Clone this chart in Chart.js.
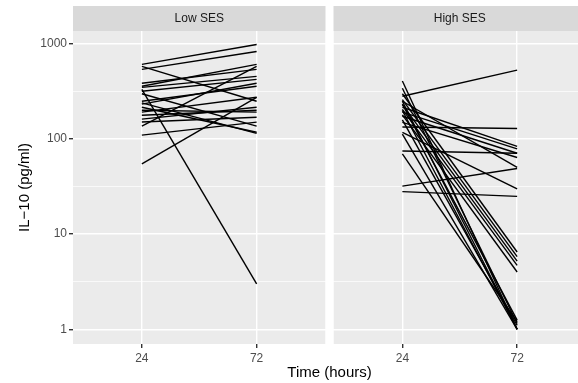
<!DOCTYPE html>
<html>
<head>
<meta charset="utf-8">
<script src="https://cdn.jsdelivr.net/npm/chart.js@4"></script>
<style>
  html, body { margin: 0; padding: 0; overflow: hidden; background: #fff; }
  #wrap { width: 578px; height: 383px; overflow: hidden; }
</style>
</head>
<body>
<div id="wrap"><canvas id="il10Chart" width="586" height="383"></canvas></div>
<script>
const panels = ["Low SES", "High SES"];
const timeLabels = ["24", "72"];
const yTicks = [1, 10, 100, 1000];

// IL-10 per subject, 24 h and 72 h
const lowSES24 = [610, 581, 541, 386, 359, 350, 334, 318, 300, 250, 240, 233, 216, 201, 192, 178, 162, 151, 137, 110, 55];
const lowSES72 = [988, 250, 834, 541, 610, 457, 3, 425, 137, 359, 115, 386, 118, 192, 275, 201, 216, 170, 581, 151, 275];
const highSES24 = [282, 134, 216, 192, 174, 75, 150, 250, 32, 118, 28, 408, 342, 250, 233, 200, 159, 113, 70, 300, 260, 230, 205, 180];
const highSES72 = [532, 129, 84, 79, 71, 71, 64, 50.5, 49, 30, 25, 1.0, 1.15, 1.0, 1.25, 1.0, 1.1, 1.0, 1.2, 6.5, 5.8, 5.2, 4.7, 4.0];

// facet layout in x units (discrete positions 1 and 2, 0.6 expansion)
const expand = 0.6;
const panelGap = 0.07;
const panelOffset = 1 + 2 * expand + panelGap;
const panelRanges = [
  [1 - expand, 2 + expand],
  [1 - expand + panelOffset, 2 + expand + panelOffset],
];
const minorTicks = [Math.sqrt(10), Math.sqrt(1000), Math.sqrt(100000)];

function makeSets(a24, a72, off) {
  return a24.map((v, i) => ({
    data: [{ x: 1 + off, y: v }, { x: 2 + off, y: a72[i] }],
    borderColor: "#000",
    borderWidth: 1.4,
    pointRadius: 0,
    fill: false,
    tension: 0,
  }));
}

const datasets = makeSets(lowSES24, lowSES72, 0).concat(makeSets(highSES24, highSES72, panelOffset));

const facetPlugin = {
  id: "facets",
  beforeDraw(chart) {
    const { ctx, chartArea: a, scales: { x } } = chart;
    ctx.save();
    ctx.fillStyle = "#ebebeb";
    panelRanges.forEach(([lo, hi]) => {
      const l = x.getPixelForValue(lo);
      const r = x.getPixelForValue(hi);
      ctx.fillRect(l, a.top, r - l, a.bottom - a.top);
    });
    ctx.restore();
  },
  beforeDatasetsDraw(chart) {
    const { ctx, chartArea: a, scales: { x } } = chart;
    ctx.save();
    // gap between the panels
    const g1 = x.getPixelForValue(panelRanges[0][1]);
    const g2 = x.getPixelForValue(panelRanges[1][0]);
    ctx.fillStyle = "#fff";
    ctx.fillRect(g1, a.top - 30, g2 - g1, a.bottom - a.top + 34);
    // strips
    const stripH = 25;
    panelRanges.forEach(([lo, hi], i) => {
      const l = x.getPixelForValue(lo);
      const r = x.getPixelForValue(hi);
      ctx.fillStyle = "#d9d9d9";
      ctx.fillRect(l, a.top - stripH, r - l, stripH);
      ctx.fillStyle = "#1a1a1a";
      ctx.font = "12px 'Liberation Sans', Arial, sans-serif";
      ctx.textAlign = "center";
      ctx.textBaseline = "middle";
      ctx.fillText(panels[i], (l + r) / 2, a.top - stripH / 2);
    });
    ctx.restore();
  },
};

Chart.defaults.font.family = "'Liberation Sans', Arial, sans-serif";
Chart.defaults.color = "#4d4d4d";

const chart = new Chart(document.querySelector("#il10Chart").getContext("2d"), {
  type: "line",
  data: { datasets: datasets },
  options: {
    responsive: false,
    animation: false,
    layout: { padding: { top: 31, right: 0, bottom: 0, left: 0 } },
    plugins: {
      legend: { display: false },
      tooltip: { enabled: false },
    },
    scales: {
      x: {
        type: "linear",
        min: panelRanges[0][0],
        max: panelRanges[1][1],
        afterBuildTicks(scale) {
          scale.ticks = [1, 2, 1 + panelOffset, 2 + panelOffset].map((v) => ({ value: v }));
        },
        afterFit(scale) {
          scale.height = 39;
        },
        ticks: {
          autoSkip: false,
          maxRotation: 0,
          padding: 3,
          color: "#4d4d4d",
          font: { size: 12 },
          callback: (v, i) => timeLabels[i % 2],
        },
        grid: {
          color: "#fff",
          lineWidth: 1.4,
          tickColor: "#333",
          tickLength: 4,
        },
        border: { display: false },
        title: {
          display: true,
          text: "Time (hours)",
          color: "#000",
          font: { size: 15 },
          padding: { top: 0, bottom: 1 },
        },
      },
      y: {
        type: "logarithmic",
        min: 0.73,
        max: 1370,
        afterBuildTicks(scale) {
          scale.ticks = yTicks.concat(minorTicks).sort((a, b) => a - b).map((v) => ({ value: v }));
        },
        afterFit(scale) {
          scale.width = 73;
        },
        ticks: {
          padding: 2,
          color: "#4d4d4d",
          font: { size: 12 },
          callback: (v) => (yTicks.includes(v) ? String(v) : ""),
        },
        grid: {
          color: "#fff",
          lineWidth: (c) => (c.tick && yTicks.includes(c.tick.value) ? 1.4 : 0.7),
          tickColor: (c) => (c.tick && yTicks.includes(c.tick.value) ? "#333" : "rgba(0,0,0,0)"),
          tickLength: 4,
        },
        border: { display: false },
        title: {
          display: true,
          text: "IL\u221210 (pg/ml)",
          color: "#000",
          font: { size: 15 },
          padding: { top: 16, bottom: 0 },
        },
      },
    },
  },
  plugins: [facetPlugin],
});
</script>
</body>
</html>
